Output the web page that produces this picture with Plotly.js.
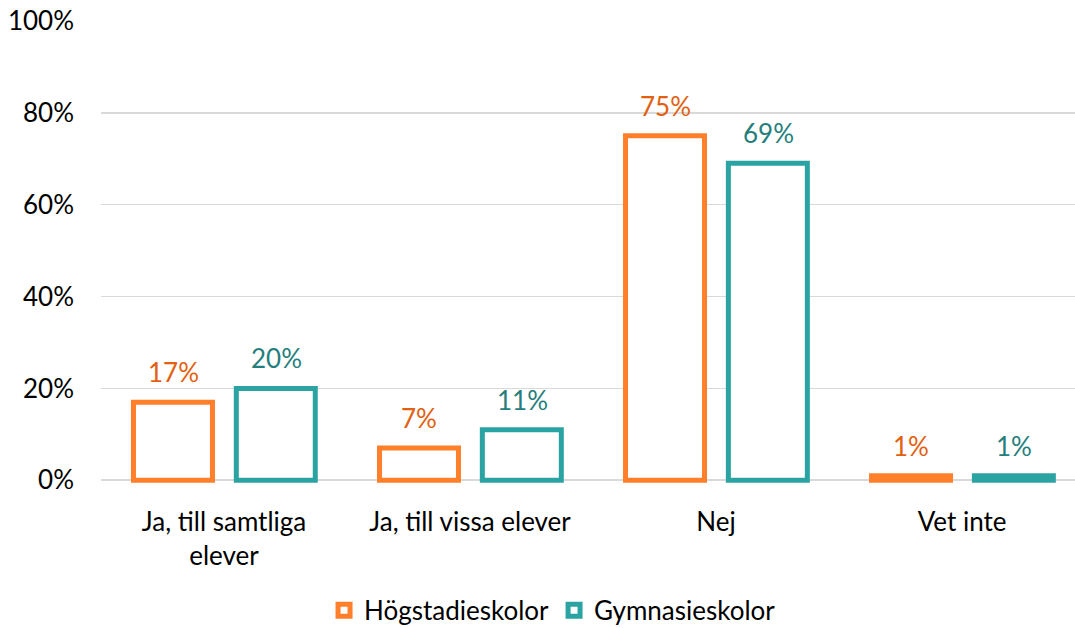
<!DOCTYPE html>
<html>
<head>
<meta charset="utf-8">
<script src="https://cdn.plot.ly/plotly-3.0.1.min.js"></script>
<style>html,body{margin:0;padding:0;background:#fff;}#chart{width:1075px;height:628px;}</style>
</head>
<body>
<div id="chart"></div>
<script>
const categories = ["Ja, till samtliga<br>elever", "Ja, till vissa elever", "Nej", "Vet inte"];
const seriesNames = ["Högstadieskolor", "Gymnasieskolor"];
const hogstadie = [17, 7, 75, 1];
const gymnasie = [20, 11, 69, 1];
const yTickVals = [0, 20, 40, 60, 80, 100];
const yTickText = ["0%", "20%", "40%", "60%", "80%", "100%"];

const lineColors = ["#FF7F2A", "#2CA3A3"];
const textColors = ["#E2600F", "#247E7C"];
const offsets = [-0.368, 0.05];
const shifts = [-51, 52];
const font = "Lato, 'Open Sans', sans-serif";
const fs = 26;

const seriesValues = [hogstadie, gymnasie];
const traces = seriesValues.map((vals, i) => ({
  type: "bar",
  name: seriesNames[i],
  x: categories,
  y: vals,
  width: 0.321,
  offset: offsets[i],
  marker: {color: "rgba(255,255,255,1)", line: {color: lineColors[i], width: 5}},
  hoverinfo: "skip"
}));

const annotations = [];
seriesValues.forEach((vals, i) => {
  vals.forEach((v, j) => {
    annotations.push({
      x: categories[j], y: v, xref: "x", yref: "y",
      text: v + "%", showarrow: false,
      xshift: shifts[i], yshift: 12,
      yanchor: "bottom", xanchor: "center",
      font: {family: font, size: fs, color: textColors[i]}
    });
  });
});

const layout = {
  width: 1075, height: 628,
  margin: {l: 101, r: 0, t: 21, b: 145},
  paper_bgcolor: "#ffffff", plot_bgcolor: "#ffffff",
  barmode: "overlay",
  showlegend: true,
  legend: {orientation: "h", xref: "container", yref: "container", x: 0.514, xanchor: "center",
           y: 0.028, yanchor: "middle",
           font: {family: font, size: fs, color: "#000"}, traceorder: "normal", itemwidth: 30},
  xaxis: {type: "category", range: [-0.5, 3.459], showgrid: false, zeroline: false, showline: false, automargin: false,
          ticks: "", tickfont: {family: font, size: fs, color: "#000"}, ticklabelstandoff: 21, fixedrange: true},
  yaxis: {range: [-0.6, 100], tickvals: yTickVals, ticktext: yTickText, showgrid: true, automargin: false,
          gridcolor: "#D9D9D9", gridwidth: 1.5, zeroline: false, showline: false, ticks: "",
          tickfont: {family: font, size: fs, color: "#000"}, ticklabelstandoff: 26, fixedrange: true},
  annotations: annotations
};

Plotly.newPlot("chart", traces, layout, {displayModeBar: false, staticPlot: true});
</script>
</body>
</html>
